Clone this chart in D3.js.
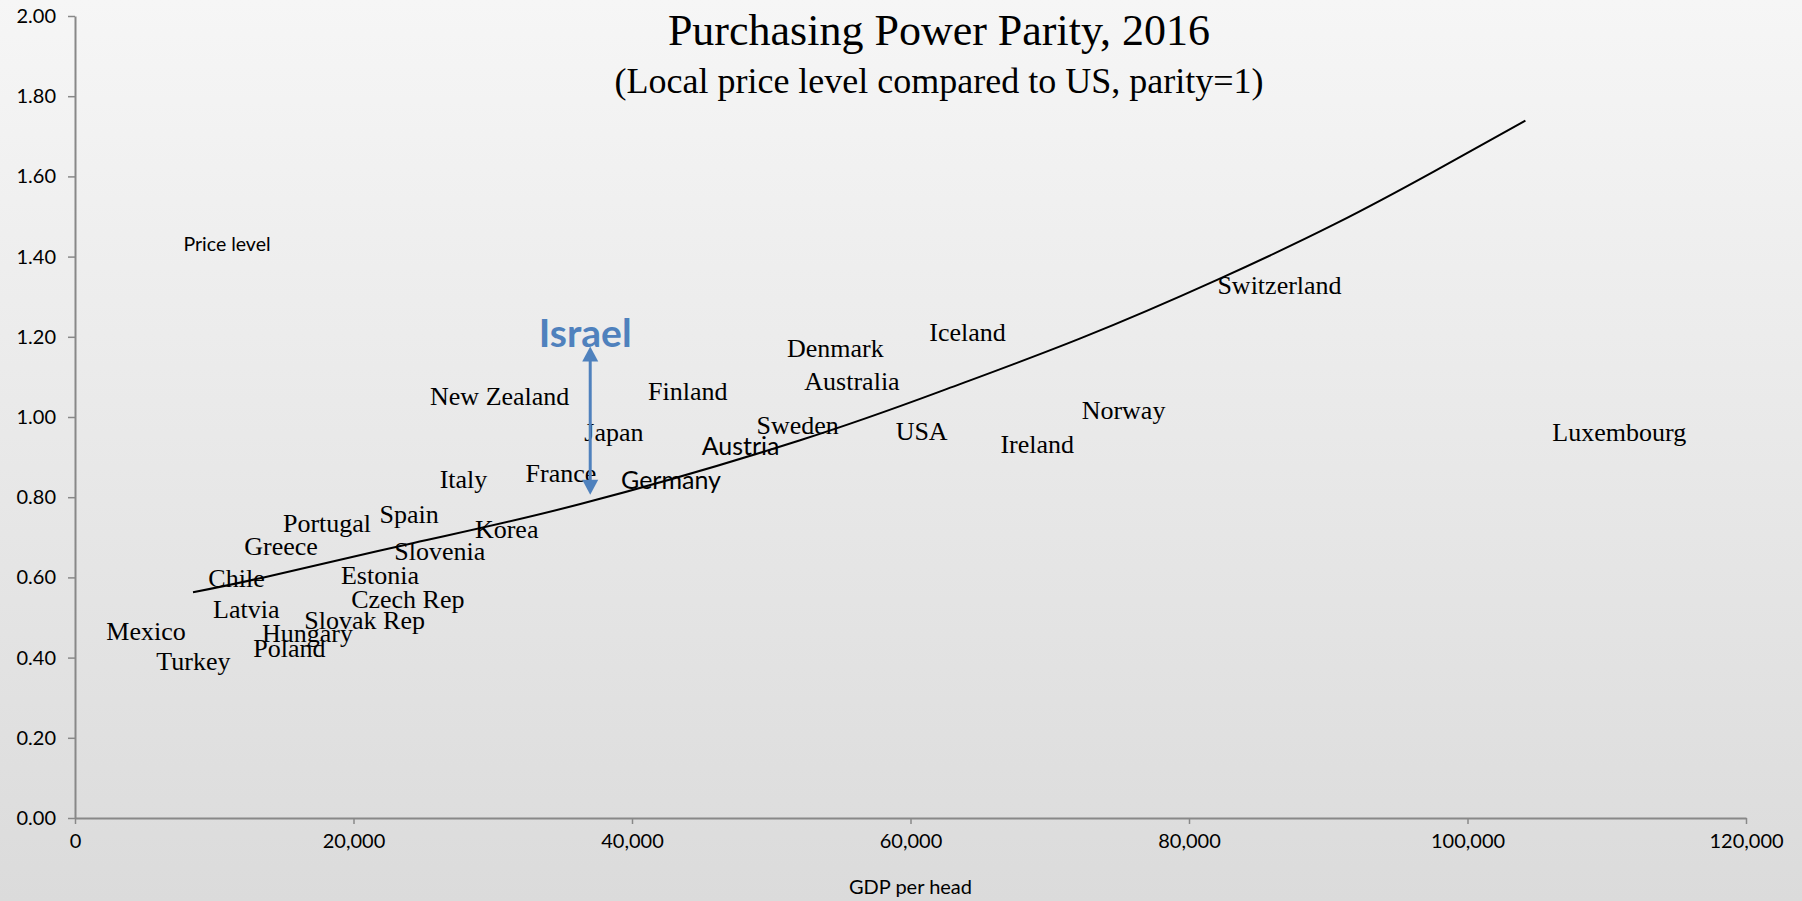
<!DOCTYPE html>
<html>
<head>
<meta charset="utf-8">
<script src="https://cdn.jsdelivr.net/npm/d3@7"></script>
<style>
  html, body { margin: 0; padding: 0; overflow: hidden; }
  svg { display: block; }
</style>
</head>
<body>
<svg id="chart" width="1802" height="901"></svg>
<script>
// countries, GDP per head (US$) and price level (US = 1)
var countries = ["Mexico","Turkey","Latvia","Chile","Greece","Portugal","Spain","Hungary","Poland",
  "Slovak Rep","Czech Rep","Estonia","Slovenia","Korea","Italy","France","Germany","Japan",
  "New Zealand","Finland","Austria","Sweden","Denmark","Australia","Iceland","USA","Ireland",
  "Norway","Switzerland","Luxembourg"];
var gdpPerHead = [5100,8500,12300,11600,14800,18100,24000,16700,15400,
  20800,23900,21900,26200,31000,27900,34900,42800,38700,
  30500,44000,47800,51900,54600,55800,64100,60800,69100,
  75300,86500,110900];
var priceLevel = [0.467,0.393,0.521,0.599,0.679,0.736,0.759,0.461,0.424,
  0.493,0.547,0.605,0.665,0.722,0.845,0.860,0.842,0.963,
  1.052,1.066,0.928,0.980,1.172,1.089,1.212,0.966,0.934,
  1.017,1.330,0.963];
// these two labels are set in a sans font in the original
var sansLabels = ["Germany","Austria"];

// exponential trend line
var trendGdp   = [8475,13545,24318,36290,52076,62626,72199,82017,90635,97573,104158];
var trendLevel = [0.563,0.600,0.686,0.783,0.942,1.070,1.196,1.342,1.484,1.612,1.739];

// Israel: gdp, top and bottom of the arrow, label level
var israelGdp = 37000;
var israelRange = [1.176, 0.806];
var israelLabelLevel = 1.21;

var xTicks = [0,20000,40000,60000,80000,100000,120000];
var yTicks = [0,0.2,0.4,0.6,0.8,1.0,1.2,1.4,1.6,1.8,2.0];

var width = 1802, height = 901;
var margin = {top: 16, right: 56, bottom: 83, left: 75};

var svg = d3.select("#chart");

// background gradient
var grad = svg.append("defs").append("linearGradient").attr("id", "bg")
  .attr("x1", 0).attr("y1", 0).attr("x2", 0).attr("y2", 1);
grad.append("stop").attr("offset", "0%").attr("stop-color", "#f6f6f6");
grad.append("stop").attr("offset", "100%").attr("stop-color", "#dbdbdb");
svg.append("rect").attr("width", width).attr("height", height).attr("fill", "url(#bg)");

var x = d3.scaleLinear().domain([0, 120000]).range([margin.left, width - margin.right]);
var y = d3.scaleLinear().domain([0, 2]).range([height - margin.bottom, margin.top]);

// axes
var yAxis = svg.append("g").attr("transform", "translate(" + margin.left + ",0)")
  .call(d3.axisLeft(y).tickValues(yTicks).tickFormat(d3.format(".2f")).tickSize(7).tickSizeOuter(0).tickPadding(12));
var xAxis = svg.append("g").attr("transform", "translate(0," + (height - margin.bottom) + ")")
  .call(d3.axisBottom(x).tickValues(xTicks).tickFormat(d3.format(",")).tickSize(6).tickSizeOuter(0).tickPadding(10));
[yAxis, xAxis].forEach(function(a){
  a.select(".domain").attr("stroke", "#888").attr("stroke-width", 2);
  a.selectAll(".tick line").attr("stroke", "#888").attr("stroke-width", 1.5);
  a.selectAll(".tick text").attr("fill", "#000").style("font-family", "Lato, 'DejaVu Sans', sans-serif").style("font-size", "20px");
});

// trend line
var trend = trendGdp.map(function(g, i){ return [g, trendLevel[i]]; });
svg.append("path").datum(trend)
  .attr("fill", "none").attr("stroke", "#000").attr("stroke-width", 2)
  .attr("d", d3.line().x(function(d){ return x(d[0]); }).y(function(d){ return y(d[1]); }).curve(d3.curveNatural));

// country labels (the points are shown only by their labels)
var pts = countries.map(function(c, i){ return {name: c, gdp: gdpPerHead[i], level: priceLevel[i]}; });
svg.append("g").selectAll("text").data(pts).enter().append("text")
  .attr("x", function(d){ return x(d.gdp); })
  .attr("y", function(d){ return y(d.level); })
  .attr("dy", "0.35em")
  .attr("text-anchor", "middle")
  .attr("fill", "#000")
  .style("font-family", function(d){ return sansLabels.indexOf(d.name) >= 0 ? "Lato, sans-serif" : "'Liberation Serif', 'Times New Roman', serif"; })
  .style("font-size", function(d){ return sansLabels.indexOf(d.name) >= 0 ? "25px" : "26px"; })
  .text(function(d){ return d.name; });

// Israel arrow
var blue = "#4f81bd";
var ax = x(israelGdp), yTop = y(israelRange[0]), yBot = y(israelRange[1]);
svg.append("line").attr("x1", ax).attr("x2", ax).attr("y1", yTop + 12).attr("y2", yBot - 12)
  .attr("stroke", blue).attr("stroke-width", 3);
svg.append("path").attr("fill", blue)
  .attr("d", "M" + ax + "," + yTop + "L" + (ax - 8) + "," + (yTop + 15) + "L" + (ax + 8) + "," + (yTop + 15) + "Z");
svg.append("path").attr("fill", blue)
  .attr("d", "M" + ax + "," + yBot + "L" + (ax - 8) + "," + (yBot - 15) + "L" + (ax + 8) + "," + (yBot - 15) + "Z");
svg.append("text").attr("x", ax - 5).attr("y", y(israelLabelLevel)).attr("dy", "0.36em")
  .attr("text-anchor", "middle").attr("fill", blue)
  .style("font-family", "Lato, sans-serif").style("font-weight", "bold").style("font-size", "39px")
  .text("Israel");

// titles
svg.append("text").attr("x", 939).attr("y", 45).attr("text-anchor", "middle")
  .style("font-family", "'Liberation Serif', serif").style("font-size", "44px").attr("fill", "#000")
  .text("Purchasing Power Parity, 2016");
svg.append("text").attr("x", 939).attr("y", 93).attr("text-anchor", "middle")
  .style("font-family", "'Liberation Serif', serif").style("font-size", "36px").attr("fill", "#000")
  .text("(Local price level compared to US, parity=1)");

// axis titles
svg.append("text").attr("x", 227).attr("y", 244).attr("dy", "0.35em").attr("text-anchor", "middle")
  .style("font-family", "Lato, sans-serif").style("font-size", "19.5px").attr("fill", "#000")
  .text("Price level");
svg.append("text").attr("x", x(60000)).attr("y", 887).attr("dy", "0.35em").attr("text-anchor", "middle")
  .style("font-family", "Lato, sans-serif").style("font-size", "20px").attr("fill", "#000")
  .text("GDP per head");
</script>
</body>
</html>
